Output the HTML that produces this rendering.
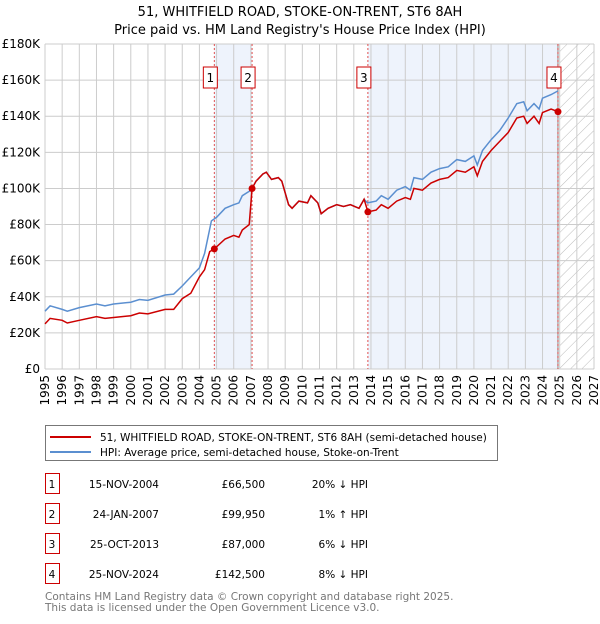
<!DOCTYPE html>
<html><head><meta charset="utf-8"><style>
body{margin:0;background:#fff;font-family:"DejaVu Sans","Liberation Sans",sans-serif;}
svg text{font-family:"DejaVu Sans","Liberation Sans",sans-serif;}
</style></head><body>
<svg id="c" width="600" height="620" xmlns="http://www.w3.org/2000/svg">
<defs><pattern id="hatch" width="8" height="8" patternUnits="userSpaceOnUse" patternTransform="rotate(45)"><line x1="0" y1="0" x2="0" y2="8" stroke="#bbb" stroke-width="1"/></pattern></defs>
<text x="300" y="16" text-anchor="middle" font-size="13">51, WHITFIELD ROAD, STOKE-ON-TRENT, ST6 8AH</text>
<text x="300" y="34" text-anchor="middle" font-size="13">Price paid vs. HM Land Registry's House Price Index (HPI)</text>
<g id="plot"></g>
<g>
<rect x="45.5" y="425.5" width="452" height="35" fill="#fff" stroke="#777"/>
<line x1="50" y1="437" x2="91" y2="437" stroke="#cc0000" stroke-width="2"/>
<text x="100" y="441" font-size="10.5">51, WHITFIELD ROAD, STOKE-ON-TRENT, ST6 8AH (semi-detached house)</text>
<line x1="50" y1="452" x2="91" y2="452" stroke="#5b8fd0" stroke-width="2"/>
<text x="100" y="456" font-size="10.5">HPI: Average price, semi-detached house, Stoke-on-Trent</text>
</g>
<g id="table" font-size="10.5"></g>
<text x="45" y="600" font-size="10.5" fill="#777">Contains HM Land Registry data © Crown copyright and database right 2025.</text>
<text x="45" y="611" font-size="10.5" fill="#777">This data is licensed under the Open Government Licence v3.0.</text>
</svg>
<script>
const hpiYears=[1995.0,1995.3,1996,1996.3,1997,1998,1998.5,1999,2000,2000.5,2001,2002,2002.5,2003,2003.5,2004,2004.3,2004.5,2004.7,2005,2005.5,2006,2006.3,2006.5,2007,2007.3,2007.7,2007.9,2008.2,2008.6,2008.8,2009.2,2009.4,2009.8,2010.3,2010.5,2010.9,2011.1,2011.5,2012,2012.4,2012.8,2013.3,2013.6,2013.8,2014.3,2014.6,2015,2015.5,2016,2016.3,2016.5,2017,2017.5,2018,2018.5,2019,2019.5,2020,2020.2,2020.5,2021,2021.5,2022,2022.5,2022.9,2023.1,2023.5,2023.8,2024,2024.5,2024.9];
const hpiValues=[32,35,33,32,34,36,35,36,37,38.5,38,41,41.5,46,51,56,64,73,82,84,89,91,92,96,99,104,108,109,105,106,104,91,89,93,92,96,92,86,89,91,90,91,89,94,92,93,96,94,99,101,99,106,105,109,111,112,116,115,118,113,121,127,132,139,147,148,143,147,144,150,152,154];
const priceYears=[1995.0,1995.3,1996,1996.3,1997,1998,1998.5,1999,2000,2000.5,2001,2002,2002.5,2003,2003.5,2004,2004.3,2004.6,2004.87,2005.5,2006,2006.3,2006.5,2006.9,2007.07,2007.3,2007.7,2007.9,2008.2,2008.6,2008.8,2009.2,2009.4,2009.8,2010.3,2010.5,2010.9,2011.1,2011.5,2012,2012.4,2012.8,2013.3,2013.6,2013.82,2014.3,2014.6,2015,2015.5,2016,2016.3,2016.5,2017,2017.5,2018,2018.5,2019,2019.5,2020,2020.2,2020.5,2021,2021.5,2022,2022.5,2022.9,2023.1,2023.5,2023.8,2024,2024.5,2024.9];
const priceValues=[25,28,27,25.5,27,29,28,28.5,29.5,31,30.5,33,33,39,42,51,55,65,66.5,72,74,73,77,80,99.95,104,108,109,105,106,104,91,89,93,92,96,92,86,89,91,90,91,89,94,87,88,91,89,93,95,94,100,99,103,105,106,110,109,112,107,115,121,126,131,139,140,136,140,136,142,144,142.5];
const saleYears=[2004.87,2007.07,2013.82,2024.9];
const saleValues=[66.5,99.95,87,142.5];
const saleLabels=["1","2","3","4"];
const saleDates=["15-NOV-2004","24-JAN-2007","25-OCT-2013","25-NOV-2024"];
const salePrices=["£66,500","£99,950","£87,000","£142,500"];
const saleHpi=["20% ↓ HPI","1% ↑ HPI","6% ↓ HPI","8% ↓ HPI"];
const yTicks=[0,20,40,60,80,100,120,140,160,180];
const yTickLabels=["£0","£20K","£40K","£60K","£80K","£100K","£120K","£140K","£160K","£180K"];
const xTicks=[1995,1996,1997,1998,1999,2000,2001,2002,2003,2004,2005,2006,2007,2008,2009,2010,2011,2012,2013,2014,2015,2016,2017,2018,2019,2020,2021,2022,2023,2024,2025,2026,2027];
const L=45,R=594,T=44,B=369;
const X=y=>L+(y-1995)/(2027-1995)*(R-L);
const Y=v=>B-v/180*(B-T);
const NS="http://www.w3.org/2000/svg";
const g=document.getElementById('plot');
function mk(tag,attrs,parent){const e=document.createElementNS(NS,tag);for(const k in attrs)e.setAttribute(k,attrs[k]);(parent||g).appendChild(e);return e;}
let r=mk('rect',{x:X(saleYears[0]),y:T,width:X(saleYears[1])-X(saleYears[0]),height:B-T,fill:'#eef3fc'});


r=mk('rect',{x:X(saleYears[2]),y:T,width:X(saleYears[3])-X(saleYears[2]),height:B-T,fill:'#eef3fc'});


r=mk('rect',{x:X(2025),y:T,width:R-X(2025),height:B-T,fill:'url(#hatch)'});


xTicks.forEach(t=>{const l=mk('line',{x1:X(t),x2:X(t),y1:T,y2:B,stroke:'#ccc'});


const tx=mk('text',{x:0,y:0,'font-size':12,'text-anchor':'end',transform:`translate(${X(t)+4},${B+6}) rotate(-90)`});tx.textContent=t;

});
yTicks.forEach((t,i)=>{const l=mk('line',{x1:L,x2:R,y1:Y(t),y2:Y(t),stroke:'#ccc'});


const tx=mk('text',{x:L-5,y:Y(t)+4,'font-size':12,'text-anchor':'end'});tx.textContent=yTickLabels[i];

});
let v=mk('line',{x1:X(2024.9),x2:X(2024.9),y1:T,y2:B,stroke:'#999','stroke-width':1.2});


saleYears.forEach((s,i)=>{const l=mk('line',{x1:X(s),x2:X(s),y1:T,y2:B,stroke:'#e05050','stroke-dasharray':'2,2'});

});
const pts=(xs,vs)=>xs.map((x,i)=>X(x).toFixed(1)+','+Y(vs[i]).toFixed(1)).join(' ');
let p=mk('polyline',{points:pts(hpiYears,hpiValues),fill:'none',stroke:'#5b8fd0','stroke-width':1.5});


p=mk('polyline',{points:pts(priceYears,priceValues),fill:'none',stroke:'#cc0000','stroke-width':1.5});


saleYears.forEach((s,i)=>{const c=mk('circle',{cx:X(s),cy:Y(saleValues[i]),r:3.5,fill:'#cc0000'});


const b=mk('rect',{x:X(s)-11,y:67,width:14,height:21,fill:'#fff',stroke:'#cc0000'});


const t=mk('text',{x:X(s)-4,y:82,'font-size':12,'text-anchor':'middle'});t.textContent=saleLabels[i];

});
const tb=document.getElementById('table');
saleLabels.forEach((lab,i)=>{const y=473+i*30;
const b=mk('rect',{x:45.5,y:y+0.5,width:14,height:20,fill:'#fff',stroke:'#cc0000'},tb);


const cells=[[52,'middle',lab,'badge-number'],[159,'end',saleDates[i],'sale-date'],[265,'end',salePrices[i],'sale-price'],[368,'end',saleHpi[i],'sale-hpi-diff']];
cells.forEach(c=>{const t=mk('text',{x:c[0],y:y+15,'text-anchor':c[1],'font-size':10.5},tb);t.textContent=c[2];

});});
</script>
</body></html>
